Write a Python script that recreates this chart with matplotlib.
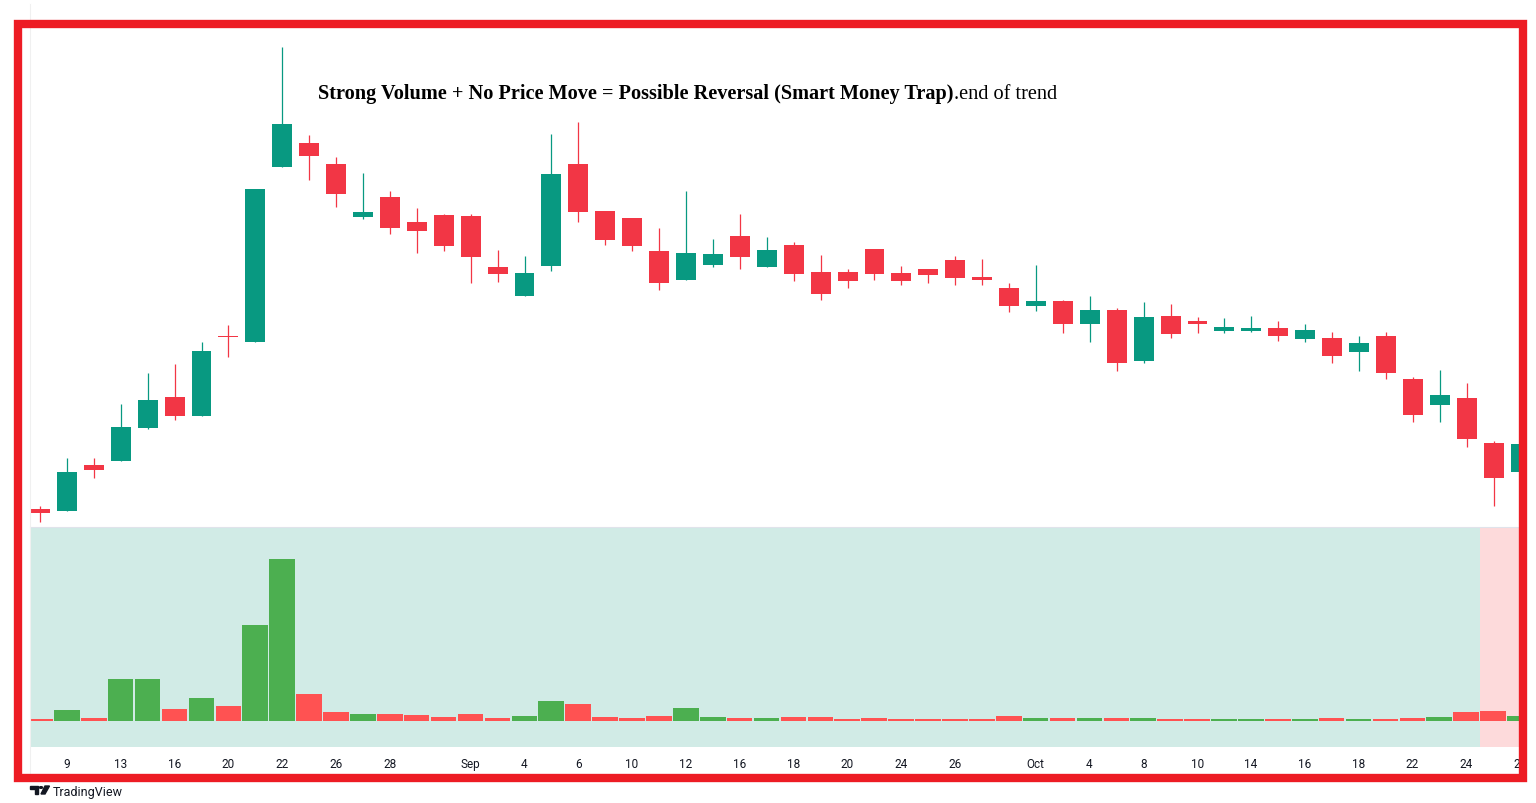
import matplotlib
matplotlib.use("Agg")
import matplotlib.pyplot as plt
from matplotlib.patches import Rectangle, Polygon, Circle
from matplotlib.lines import Line2D

W, H = 1536, 804

# daily candles, Aug -> Oct
opens  = [1.18, 1.16, 1.62, 1.66, 1.99, 2.30, 2.11, 2.91, 2.85, 4.60,
          4.84, 4.63, 4.10, 4.30, 4.05, 4.12, 4.11, 3.60, 3.31, 3.61,
          4.63, 4.16, 4.09, 3.76, 3.47, 3.62, 3.91, 3.60, 3.82, 3.55,
          3.55, 3.78, 3.54, 3.58, 3.67, 3.50, 3.39, 3.21, 3.26, 3.03,
          3.17, 2.66, 3.11, 3.06, 2.96, 2.96, 2.99, 2.88, 2.89, 2.75,
          2.91, 2.48, 2.22, 2.29, 1.84, 1.55]
highs  = [1.21, 1.69, 1.69, 2.23, 2.54, 2.63, 2.85, 3.02, 4.38, 5.80,
          4.92, 4.70, 4.54, 4.36, 4.19, 4.13, 4.13, 3.77, 3.71, 4.93,
          5.05, 4.16, 4.09, 3.99, 4.36, 3.88, 4.13, 3.90, 3.85, 3.72,
          3.58, 3.78, 3.61, 3.58, 3.71, 3.68, 3.44, 3.62, 3.27, 3.31,
          3.19, 3.25, 3.23, 3.10, 3.09, 3.11, 3.06, 3.03, 2.95, 2.91,
          2.95, 2.50, 2.57, 2.44, 1.86, 1.83]
lows   = [1.05, 1.16, 1.49, 1.66, 1.98, 2.07, 2.11, 2.70, 2.85, 4.60,
          4.47, 4.20, 4.08, 3.93, 3.74, 3.76, 3.44, 3.45, 3.31, 3.56,
          4.05, 3.82, 3.76, 3.37, 3.47, 3.60, 3.58, 3.60, 3.46, 3.27,
          3.39, 3.47, 3.42, 3.44, 3.42, 3.42, 3.15, 3.16, 2.94, 2.85,
          2.56, 2.64, 2.89, 2.94, 2.94, 2.95, 2.86, 2.85, 2.64, 2.56,
          2.48, 2.05, 2.05, 1.80, 1.21, 1.55]
closes = [1.14, 1.55, 1.57, 2.00, 2.27, 2.11, 2.76, 2.90, 4.38, 5.03,
          4.71, 4.33, 4.15, 3.99, 3.96, 3.81, 3.70, 3.53, 3.54, 4.53,
          4.15, 3.87, 3.81, 3.44, 3.74, 3.73, 3.70, 3.77, 3.53, 3.33,
          3.46, 3.53, 3.46, 3.52, 3.49, 3.47, 3.21, 3.26, 3.03, 3.17,
          2.64, 3.10, 2.93, 3.03, 3.00, 2.99, 2.91, 2.97, 2.71, 2.84,
          2.54, 2.12, 2.32, 1.88, 1.49, 1.83]
volumes = [20, 107, 30, 420, 420, 117, 227, 147, 960, 1617,
           267, 90, 70, 70, 60, 40, 70, 30, 50, 197,
           167, 40, 30, 50, 127, 40, 30, 30, 40, 40,
           20, 30, 20, 20, 20, 20, 50, 30, 30, 30,
           30, 30, 20, 20, 20, 20, 20, 20, 30, 20,
           20, 30, 40, 90, 97, 50]
# volume-pane background signal (1 = bearish zone)
bg_flag = [0] * 54 + [1, 1]

tick_pos = [1, 3, 5, 7, 9, 11, 13, 16, 18, 20, 22, 24, 26, 28, 30, 32, 34,
            37, 39, 41, 43, 45, 47, 49, 51, 53, 55]
tick_labels = ["9", "13", "16", "20", "22", "26", "28", "Sep", "4", "6", "10",
               "12", "16", "18", "20", "24", "26", "Oct", "4", "8", "10", "14",
               "16", "18", "22", "24", "28"]

UP, DOWN = "#089981", "#F23645"
VUP, VDOWN = "#4CAF50", "#FF5252"
BG_UP, BG_DOWN = "#D1EBE6", "#FDDADB"


def fx(px):
    return px / W


def fy(py):
    return 1 - py / H


fig = plt.figure(figsize=(W / 100, H / 100), dpi=100)
fig.patch.set_facecolor("white")

x = list(range(len(opens)))
xlim = (-0.371, 54.98)

# price pane
ax = fig.add_axes([fx(30), fy(528), (1520 - 30) / W, 500 / H])
cols = [UP if c >= o else DOWN for o, c in zip(opens, closes)]
ax.vlines(x, lows, highs, colors=cols, linewidth=0.9, zorder=2)
bodies = [max(abs(c - o), 0.008) for o, c in zip(opens, closes)]
ax.bar(x, bodies, bottom=[min(o, c) for o, c in zip(opens, closes)],
       width=0.74, color=cols, linewidth=0, zorder=3)
ax.set_xlim(*xlim)
ax.set_ylim(1.0, 6.0)
ax.axis("off")

# volume pane
axv = fig.add_axes([fx(30), fy(748), (1520 - 30) / W, 220 / H])
for i, f in zip(x, bg_flag):
    axv.axvspan(i - 0.5, i + 0.5, color=BG_DOWN if f else BG_UP, linewidth=0, zorder=0)
vcols = [VUP if c >= o else VDOWN for o, c in zip(opens, closes)]
axv.bar(x, volumes, width=0.95, color=vcols, linewidth=0, zorder=2)
axv.set_xlim(*xlim)
axv.set_ylim(-263, 1937)
axv.set_yticks([])
axv.set_xticks(tick_pos)
axv.set_xticklabels(tick_labels, fontsize=8.5, color="#131722", family="Roboto")
axv.tick_params(axis="x", length=0, pad=7)
for s in ["left", "right", "bottom"]:
    axv.spines[s].set_visible(False)
axv.spines["top"].set_color("#E0E3EB")
axv.spines["top"].set_linewidth(0.8)

# faint left edge of the chart
fig.add_artist(Line2D([fx(30), fx(30)], [fy(5), fy(775)], color="#F0F0F0", lw=0.8))

# annotation
t1 = fig.text(fx(318), fy(99),
              "Strong Volume + No Price Move = Possible Reversal (Smart Money Trap)",
              fontsize=14.6, fontweight="bold", family="Liberation Serif",
              color="black", va="baseline", ha="left")
fig.canvas.draw()
bb = t1.get_window_extent()
fig.text(bb.x1 / W, fy(99), ".end of trend", fontsize=14.6, family="Liberation Serif",
         color="black", va="baseline", ha="left")

# TradingView mark
logo = "#131722"
fig.add_artist(Polygon([(fx(30), fy(787)), (fx(38), fy(787)), (fx(38), fy(795)),
                        (fx(35), fy(795)), (fx(35), fy(790)), (fx(30), fy(790))],
                       closed=True, color=logo, transform=fig.transFigure))
fig.add_artist(Circle((fx(41), fy(788.5)), 1.6 / W, color=logo, transform=fig.transFigure))
fig.add_artist(Polygon([(fx(45), fy(787)), (fx(49.5), fy(787)), (fx(45), fy(795)),
                        (fx(41), fy(795))],
                       closed=True, color=logo, transform=fig.transFigure))
fig.text(fx(53), fy(793), "TradingView", fontsize=9, family="Roboto",
         color=logo, va="center", ha="left")

# red frame
fig.add_artist(Rectangle((fx(17.5), fy(779)), (1523.3 - 17.5) / W, (779 - 25.4) / H,
                         fill=False, edgecolor="#ED1C24", linewidth=6.0,
                         transform=fig.transFigure, zorder=10))

fig.savefig("out.png", dpi=100, facecolor="white")
